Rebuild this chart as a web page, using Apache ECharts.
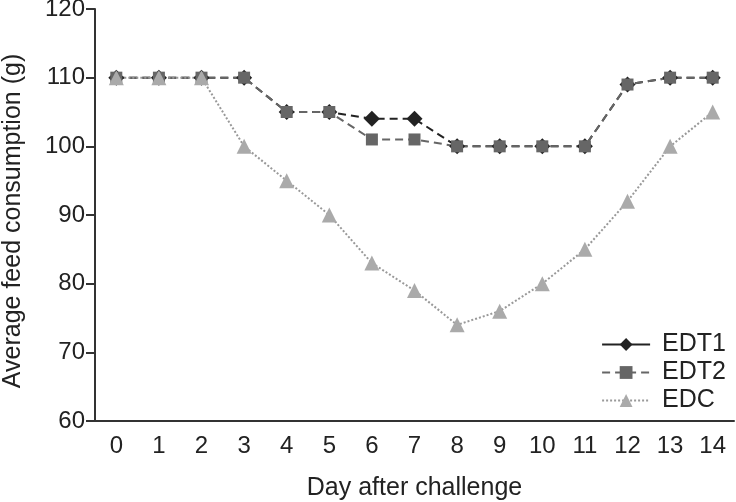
<!DOCTYPE html>
<html><head><meta charset="utf-8">
<script src="https://cdn.jsdelivr.net/npm/echarts@6/dist/echarts.min.js"></script>
<style>html,body{margin:0;padding:0;background:#fff}#c{width:736px;height:502px}</style>
</head><body><div id="c"></div>
<script>
var days = ['0','1','2','3','4','5','6','7','8','9','10','11','12','13','14'];
var edt1 = [110,110,110,110,105,105,104,104,100,100,100,100,109,110,110];
var edt2 = [110,110,110,110,105,105,101,101,100,100,100,100,109,110,110];
var edc  = [110,110,110,100,95,90,83,79,74,76,80,85,92,100,105];
var yTicks = [60,70,80,90,100,110,120];

var chart = echarts.init(document.getElementById('c'));
var font = 'Liberation Sans, Arial, sans-serif';
chart.setOption({
  animation: false,
  grid: {left: 95, right: 2, top: 9, bottom: 81, containLabel: false, outerBoundsMode: 'none'},
  legend: {
    right: 5, top: 327, orient: 'vertical', itemWidth: 48, itemHeight: 16, itemGap: 3,
    textStyle: {fontFamily: font, fontSize: 25, color: '#222', padding: [0, 0, 0, 7]},
    data: [
      {name: 'EDT1', lineStyle: {type: 'solid'}},
      {name: 'EDT2'},
      {name: 'EDC'}
    ]
  },
  xAxis: {
    type: 'category', data: days, boundaryGap: true,
    name: 'Day after challenge', nameLocation: 'middle', nameGap: 55,
    nameTextStyle: {fontFamily: font, fontSize: 25, color: '#222'},
    axisLine: {lineStyle: {color: '#333', width: 2}},
    axisTick: {length: 8, lineStyle: {color: '#333', width: 2}},
    axisLabel: {fontFamily: font, fontSize: 24, color: '#222', margin: 13}
  },
  yAxis: {
    type: 'value', min: yTicks[0], max: yTicks[yTicks.length-1], interval: 10,
    name: 'Average feed consumption (g)', nameLocation: 'middle', nameGap: 69,
    nameTextStyle: {fontFamily: font, fontSize: 25, color: '#222', padding: [0, 12, 0, 0]},
    axisLine: {show: true, lineStyle: {color: '#333', width: 2}},
    axisTick: {show: true, length: 9, lineStyle: {color: '#333', width: 2}},
    axisLabel: {fontFamily: font, fontSize: 24, color: '#222', margin: 10},
    splitLine: {show: false}
  },
  series: [
    {name: 'EDT1', type: 'line', data: edt1, symbol: 'diamond', symbolSize: 16,
     itemStyle: {color: '#222'}, lineStyle: {color: '#222', width: 2, type: [8, 5]}},
    {name: 'EDT2', type: 'line', data: edt2, symbol: 'rect', symbolSize: 12,
     itemStyle: {color: '#666'}, lineStyle: {color: '#666', width: 2, type: [8, 5]}},
    {name: 'EDC', type: 'line', data: edc, symbol: 'triangle', symbolSize: 15,
     itemStyle: {color: '#aaa'}, lineStyle: {color: '#999', width: 2, type: [2, 2]}}
  ]
});
</script></body></html>
